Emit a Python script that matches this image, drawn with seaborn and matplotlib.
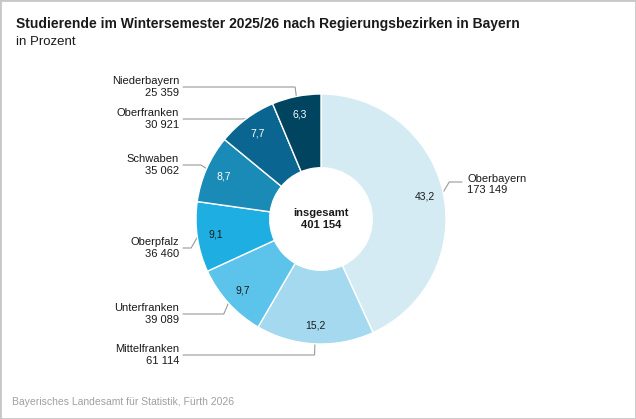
import matplotlib
matplotlib.use("Agg")
import matplotlib.pyplot as plt
import numpy as np
import seaborn as sns
from matplotlib.patches import Rectangle

# Data
regions = ["Oberbayern", "Mittelfranken", "Unterfranken", "Oberpfalz",
           "Schwaben", "Oberfranken", "Niederbayern"]
students = [173149, 61114, 39089, 36460, 35062, 30921, 25359]
shares = [43.2, 15.2, 9.7, 9.1, 8.7, 7.7, 6.3]
total = 401154

# Style
sns.set_theme(style="white")
plt.rcParams["font.family"] = ["Liberation Sans", "DejaVu Sans"]

colors = sns.color_palette(["#d4ebf3", "#a5d9ef", "#5cc4ea", "#1eaee2",
                            "#1a8bb6", "#0a6690", "#00445f"])
pct_colors = ["#1a1a1a"] * 4 + ["white"] * 3
label_y = [0.296, -1.088, -0.76, -0.232, 0.432, 0.80, 1.056]


def fmt(n):
    return f"{n:,}".replace(",", " ").replace(".", ",")


fig = plt.figure(figsize=(6.36, 4.19), dpi=100)
ax = fig.add_axes([(321 - 130) / 636, (200 - 130) / 419, 260 / 636, 260 / 419])

wedges, _ = ax.pie(
    students,
    colors=colors,
    startangle=90,
    counterclock=False,
    radius=1,
    wedgeprops=dict(width=0.59, edgecolor="white", linewidth=1),
)
ax.set_xlim(-1.04, 1.04)
ax.set_ylim(-1.04, 1.04)
ax.set_aspect("equal")
ax.axis("off")

for w, name, n, s, pc, ly in zip(wedges, regions, students, shares, pct_colors, label_y):
    theta = np.deg2rad((w.theta1 + w.theta2) / 2)
    cx, cy = np.cos(theta), np.sin(theta)
    # share inside the ring
    ax.text(0.85 * cx, 0.85 * cy, f"{s:.1f}".replace(".", ","),
            ha="center", va="center", fontsize=7.5, color=pc)
    # leader line
    ex = cx + 0.05 * cx
    if cx < 0:
        lx, tx, ty, ha = -1.104, -1.136, ly, "right"
    else:
        lx, tx, ty, ha = 1.128, 1.168, ly - 0.02, "left"
    ax.plot([cx, ex, lx], [cy, ly, ly], color="#9a9a9a", lw=0.8,
            zorder=0, clip_on=False, solid_joinstyle="miter")
    ax.text(tx, ty, f"{name}\n{fmt(n)}", ha=ha, va="center",
            fontsize=8, color="#1a1a1a", linespacing=1.15)

ax.text(0, 0, f"insgesamt\n{fmt(total)}", ha="center", va="center",
        fontsize=8, fontweight="bold", color="#1a1a1a", linespacing=1.3)

fig.text(16 / 636, 1 - 28 / 419,
         "Studierende im Wintersemester 2025/26 nach Regierungsbezirken in Bayern",
         fontsize=10, fontweight="bold", color="#1a1a1a", va="baseline")
fig.text(16 / 636, 1 - 45 / 419, "in Prozent", fontsize=9.5,
         color="#1a1a1a", va="baseline")
fig.text(12 / 636, 1 - 405 / 419, "Bayerisches Landesamt für Statistik, Fürth 2026",
         fontsize=7.5, color="#a0a0a0", va="baseline")

fig.patches.append(Rectangle((0, 0), 1, 1, transform=fig.transFigure,
                             fill=False, edgecolor="#c8c8c8", lw=2))

fig.savefig("out.png", dpi=100)
